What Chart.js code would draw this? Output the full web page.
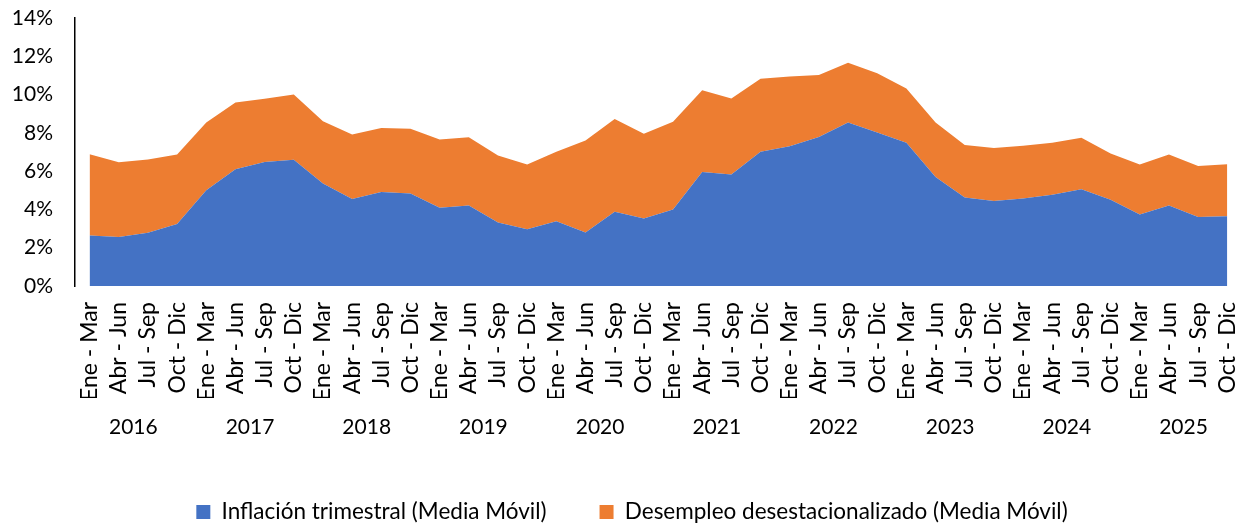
<!DOCTYPE html>
<html>
<head>
<meta charset="utf-8">
<script src="https://cdn.jsdelivr.net/npm/chart.js@4.4.1/dist/chart.umd.min.js"></script>
<style>
  html, body { margin: 0; padding: 0; background: #ffffff; }
  #wrap { width: 1255px; height: 527px; }
</style>
</head>
<body>
<div id="wrap"><canvas id="c" width="1255" height="527"></canvas></div>
<script>
// ---- Data ----
const quarters = ["Ene - Mar", "Abr - Jun", "Jul - Sep", "Oct - Dic"];
const years = ["2016", "2017", "2018", "2019", "2020", "2021", "2022", "2023", "2024", "2025"];
const categories = [];
years.forEach(() => quarters.forEach(q => categories.push(q)));

// Inflación trimestral (Media Móvil), %
const inflation = [2.64, 2.56, 2.78, 3.24, 5.00, 6.10, 6.48, 6.59, 5.35, 4.54,
                   4.91, 4.83, 4.09, 4.21, 3.32, 2.96, 3.38, 2.79, 3.88, 3.52,
                   3.99, 5.96, 5.82, 7.01, 7.30, 7.79, 8.54, 8.02, 7.48, 5.70,
                   4.62, 4.44, 4.57, 4.77, 5.05, 4.51, 3.73, 4.20, 3.60, 3.65];
// Desempleo desestacionalizado (Media Móvil), %
const unemployment = [4.24, 3.91, 3.83, 3.63, 3.54, 3.49, 3.30, 3.42, 3.25, 3.38,
                      3.34, 3.38, 3.56, 3.56, 3.50, 3.39, 3.63, 4.81, 4.85, 4.43,
                      4.59, 4.26, 3.98, 3.82, 3.65, 3.23, 3.12, 3.09, 2.84, 2.84,
                      2.75, 2.77, 2.75, 2.71, 2.69, 2.41, 2.62, 2.67, 2.67, 2.71];
const yTicks = [0, 2, 4, 6, 8, 10, 12, 14];

const FONT = "Lato, 'Open Sans', sans-serif";
const TXT = "#000000";

new Chart(document.getElementById('c'), {
  type: 'line',
  data: {
    labels: categories,
    datasets: [
      {
        label: 'Inflación trimestral (Media Móvil)',
        data: inflation,
        backgroundColor: '#4472C4',
        borderColor: '#4472C4',
        borderWidth: 0,
        pointRadius: 0,
        fill: 'origin',
        tension: 0
      },
      {
        label: 'Desempleo desestacionalizado (Media Móvil)',
        data: unemployment,
        backgroundColor: '#ED7D31',
        borderColor: '#ED7D31',
        borderWidth: 0,
        pointRadius: 0,
        fill: '-1',
        tension: 0
      }
    ]
  },
  options: {
    responsive: false,
    animation: false,
    devicePixelRatio: 1,
    layout: { padding: { left: 9, right: 0, top: 18, bottom: -6.25 } },
    plugins: {
      tooltip: { enabled: false },
      legend: {
        position: 'bottom',
        labels: {
          font: { family: FONT, size: 22.5 },
          color: TXT,
          boxWidth: 14,
          boxHeight: 14,
          padding: 53
        }
      }
    },
    scales: {
      x: {
        type: 'category',
        offset: true,
        grid: { display: false, drawTicks: true, tickLength: 16 },
        border: { display: false },
        ticks: {
          autoSkip: false,
          minRotation: 90,
          maxRotation: 90,
          padding: 0,
          color: TXT,
          font: { family: FONT, size: 23 }
        },
        afterFit: (s) => { s.height = 112; }
      },
      xYear: {
        type: 'linear',
        position: 'bottom',
        weight: 1,
        min: -0.5,
        max: categories.length - 0.5,
        grid: { display: false, drawTicks: true, tickLength: 17 },
        border: { display: false },
        afterBuildTicks: (s) => {
          s.ticks = years.map((y, i) => ({ value: i * quarters.length + (quarters.length - 1) / 2 }));
        },
        ticks: {
          autoSkip: false,
          minRotation: 0,
          maxRotation: 0,
          padding: 0,
          color: TXT,
          font: { family: FONT, size: 21 },
          callback: (v, i) => years[i]
        },
        afterFit: (s) => { s.height = 49.75; }
      },
      y: {
        stacked: true,
        min: 0,
        max: 14,
        grid: { display: false, drawTicks: true, tickLength: 22 },
        border: { display: true, color: '#000000', width: 1.5 },
        afterBuildTicks: (s) => { s.ticks = yTicks.map(v => ({ value: v })); },
        ticks: {
          padding: 0,
          color: TXT,
          font: { family: FONT, size: 21 },
          callback: (v) => v + '%'
        },
        afterFit: (s) => { s.width = 66; }
      },
      ySpacer: {
        type: 'linear',
        position: 'right',
        display: true,
        grid: { display: false, drawTicks: false },
        border: { display: false },
        ticks: { display: false },
        afterFit: (s) => { s.width = 10; }
      }
    }
  }
});
</script>
</body>
</html>
